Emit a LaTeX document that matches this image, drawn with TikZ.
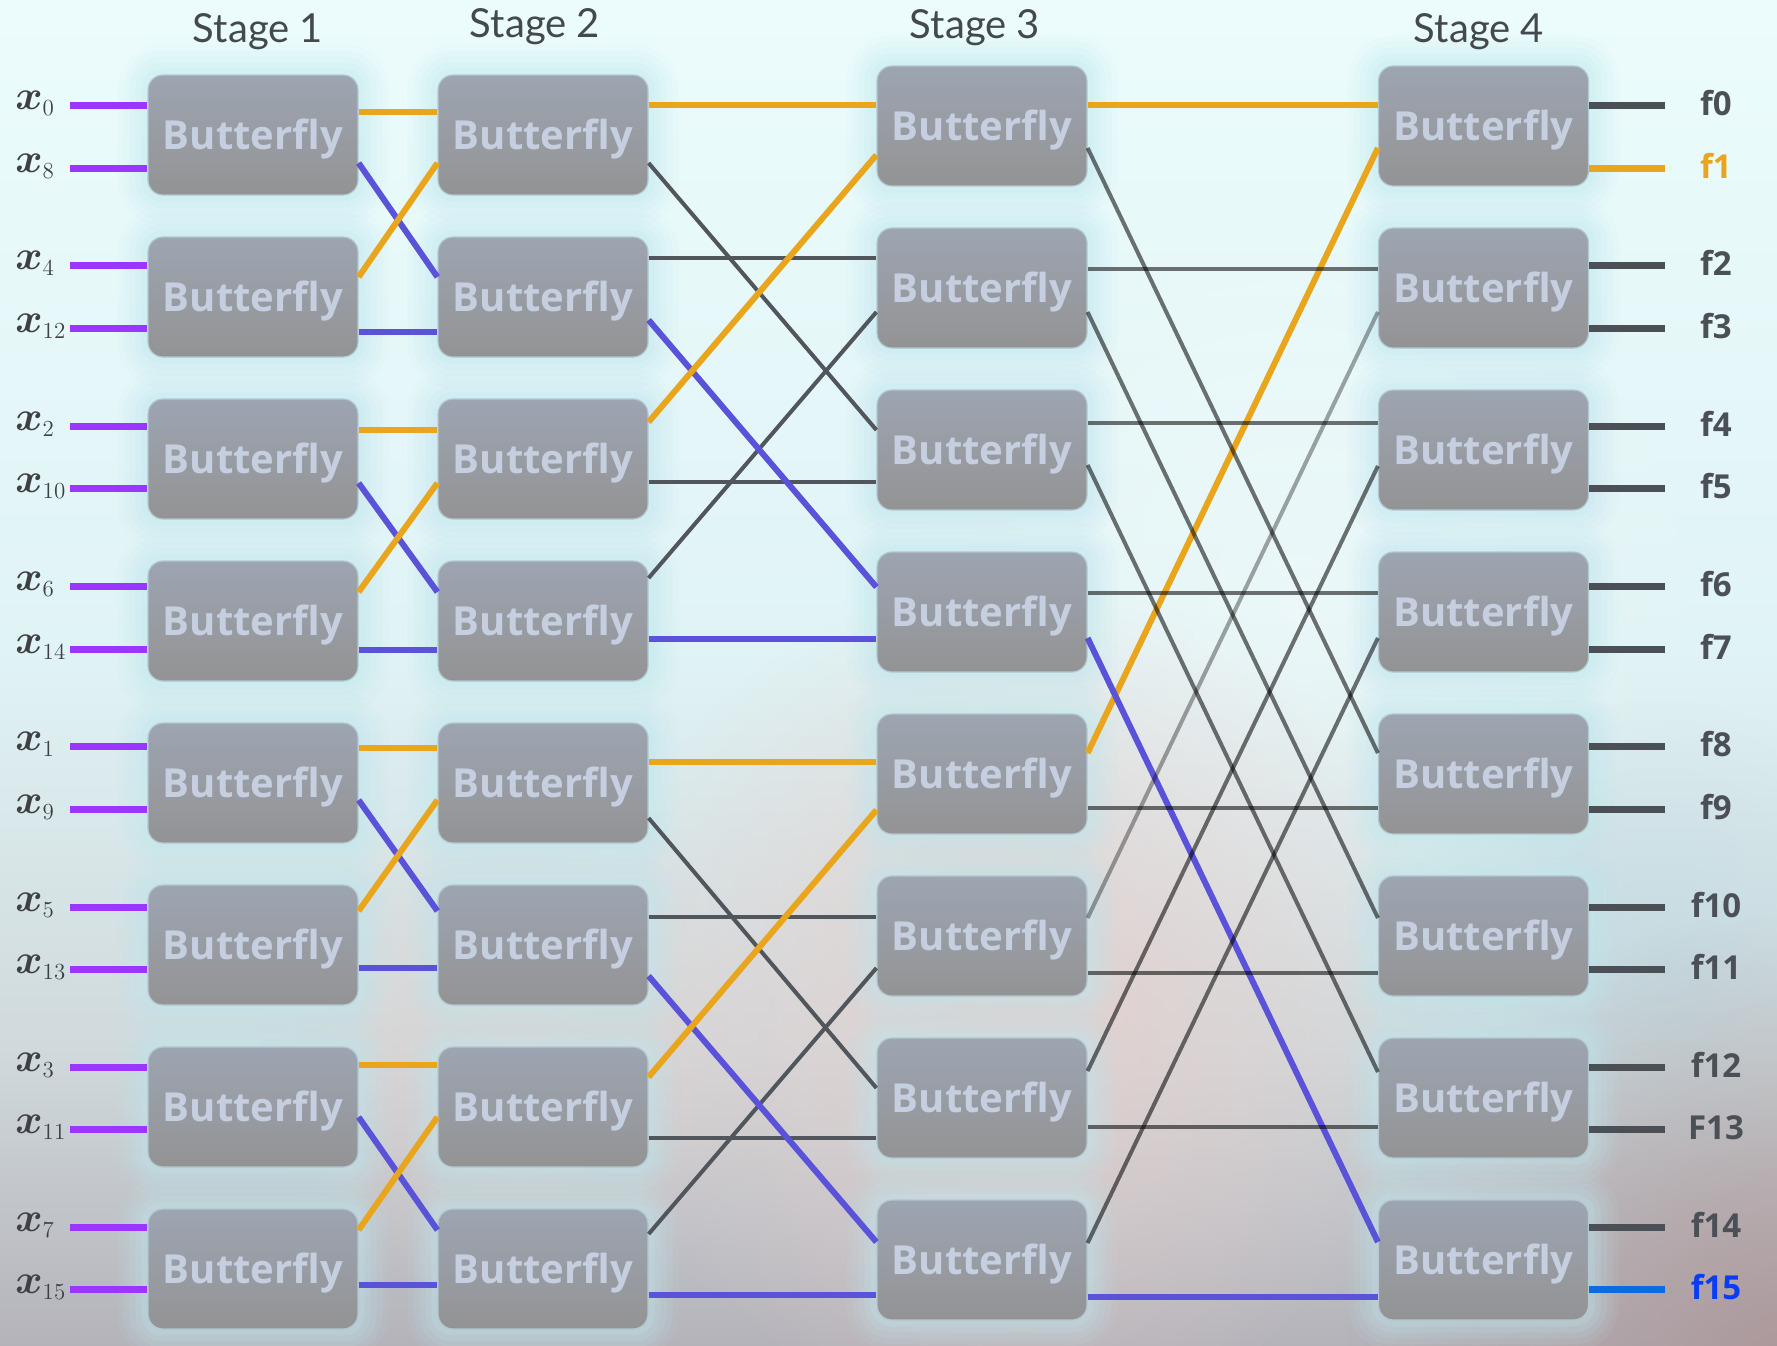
\documentclass[tikz,border=0pt]{standalone}
\usepackage{amsmath}
\usepackage{fontspec}
\newfontfamily\latof{Lato}
\newfontfamily\opens{Open Sans}
\usetikzlibrary{calc,fadings}
\pgfdeclarelayer{bg}
\pgfdeclarelayer{halo}
\pgfsetlayers{bg,halo,main}
\definecolor{bgA}{HTML}{ECFCFC}
\definecolor{bgB}{HTML}{E0F3F5}
\definecolor{bgC}{HTML}{D0D9DC}
\definecolor{bgD}{HTML}{B4B3BA}
\definecolor{pinkA}{HTML}{E8CDCA}
\definecolor{roseA}{HTML}{AA9192}
\definecolor{bluA}{HTML}{BCD8E0}
\definecolor{haloC}{HTML}{BFE8EF}
\definecolor{boxT}{HTML}{9DA5B2}
\definecolor{boxB}{HTML}{939394}
\definecolor{boxE}{HTML}{B2C8CF}
\definecolor{bfT}{HTML}{C6CFE0}
\definecolor{stageC}{HTML}{43494F}
\definecolor{inC}{HTML}{3E4045}
\definecolor{purC}{HTML}{9A36FF}
\definecolor{orgC}{HTML}{E9A61C}
\definecolor{bluC}{HTML}{5A52D8}
\definecolor{gryC}{HTML}{50565C}
\definecolor{outC}{HTML}{4B5056}
\definecolor{fLine}{HTML}{0A6CE0}
\definecolor{fText}{HTML}{0A3CF5}
\tikzfading[name=softdisc, inner color=transparent!0, outer color=transparent!100]
\tikzset{
  bfly/.style={rectangle, rounded corners=7.5pt, minimum width=105pt, minimum height=60pt,
    inner sep=0pt, top color=boxT, bottom color=boxB, draw=boxE, line width=0.6pt,
    font=\opens\bfseries\fontsize{20}{20}\selectfont, text=bfT, text height=14.5pt, text depth=0pt},
  halostroke/.style={draw=haloC, rounded corners=7.5pt},
  stagelab/.style={font=\latof\fontsize{20}{20}\selectfont, text=stageC, anchor=base, inner sep=0pt},
  inlab/.style={anchor=base west, inner sep=0pt, text=inC, font=\fontsize{21}{21}\selectfont},
  outlab/.style={anchor=base, inner sep=0pt, font=\opens\bfseries\fontsize{16.5}{17}\selectfont},
  inl/.style={draw=purC, line width=3.5pt},
  outl/.style={line width=3.5pt},
  org/.style={draw=orgC, line width=3pt},
  blu/.style={draw=bluC, line width=3pt},
  gryB/.style={draw=gryC, line width=2pt},
  gryK/.style={draw=black, draw opacity=0.55, line width=2pt},
  gryL/.style={draw=black, draw opacity=0.35, line width=2pt},
}
\newcommand{\inx}[1]{$\boldsymbol{x}_{\mbox{\fontsize{11.5}{12}\selectfont #1}}$}
\begin{document}
\begin{tikzpicture}[x=0.5pt,y=-0.5pt]
\useasboundingbox (0,0) rectangle (1777,1345);
% ---------- background ----------
\begin{pgfonlayer}{bg}
  \shade[top color=bgA, bottom color=bgB] (0,0) rectangle (1777,650);
  \shade[top color=bgB, bottom color=bgC] (0,649) rectangle (1777,1050);
  \shade[top color=bgC, bottom color=bgD] (0,1049) rectangle (1777,1345);
  \fill[white, opacity=0.35, path fading=softdisc] (1300,600) circle[radius=420];
  \fill[pinkA, opacity=0.8, path fading=softdisc] (1020,1010) circle[radius=430];
  \fill[pinkA, opacity=0.55, path fading=softdisc] (520,1060) circle[radius=260];
  \fill[bluA, opacity=0.6, path fading=softdisc] (1660,960) circle[radius=260];
  \fill[roseA, opacity=0.75, path fading=softdisc] (1777,1345) circle[radius=430];
\end{pgfonlayer}
% ---------- stage labels ----------
\node[stagelab] (st1) at (258,42) {Stage 1};
\node[stagelab] (st2) at (535,37) {Stage 2};
\node[stagelab] (st3) at (975,38) {Stage 3};
\node[stagelab] (st4) at (1479,42) {Stage 4};
% ---------- butterfly boxes ----------
\foreach \k in {0,...,7}{
  \pgfmathsetmacro\ya{135+162*\k}
  \pgfmathsetmacro\yb{126+162*\k}
  \node[bfly] (s1-\k) at (253,\ya) {Butterfly};
  \node[bfly] (s2-\k) at (543,\ya) {Butterfly};
  \node[bfly] (s3-\k) at (982,\yb) {Butterfly};
  \node[bfly] (s4-\k) at (1483.5,\yb) {Butterfly};
}
% ---------- halos ----------
\begin{pgfonlayer}{halo}
\foreach \s in {1,...,4}{\foreach \k in {0,...,7}{
  \foreach \w/\o in {30pt/0.08, 24pt/0.1, 18pt/0.12, 12pt/0.15, 6pt/0.2}{
    \path[halostroke, line width=\w, draw opacity=\o] (s\s-\k.south west) rectangle (s\s-\k.north east);
  }
}}
\end{pgfonlayer}
% ---------- inputs ----------
\foreach \k/\a/\b/\ya/\yb in {0/0/8/105/168, 1/4/12/265/328, 2/2/10/426/488, 3/6/14/586/649,
    4/1/9/746/809, 5/5/13/907/969, 6/3/11/1067/1129, 7/7/15/1227/1289}{
  \coordinate (ia-\k) at (70,\ya);
  \coordinate (ib-\k) at (70,\yb);
  \draw[inl] (ia-\k) -- (s1-\k.west |- ia-\k);
  \draw[inl] (ib-\k) -- (s1-\k.west |- ib-\k);
  \node[inlab] (xa-\k) at (15,\ya+4) {\inx{\a}};
  \node[inlab] (xb-\k) at (15,\yb+4) {\inx{\b}};
}
% ---------- outputs ----------
\foreach \k/\a/\b/\ya/\yb/\la/\lb/\ta/\tb in {
    0/f0/f1/105/168/outC/orgC/outC/orgC,
    1/f2/f3/265/328/outC/outC/outC/outC,
    2/f4/f5/426/488/outC/outC/outC/outC,
    3/f6/f7/586/649/outC/outC/outC/outC,
    4/f8/f9/746/809/outC/outC/outC/outC,
    5/f10/f11/907/969/outC/outC/outC/outC,
    6/f12/F13/1067/1129/outC/outC/outC/outC,
    7/f14/f15/1227/1289/outC/fLine/outC/fText}{
  \coordinate (oa-\k) at (1665,\ya);
  \coordinate (ob-\k) at (1665,\yb);
  \draw[outl, draw=\la] (s4-\k.east |- oa-\k) -- (oa-\k);
  \draw[outl, draw=\lb] (s4-\k.east |- ob-\k) -- (ob-\k);
  \node[outlab, text=\ta] (fa-\k) at (1716,\ya+10) {\a};
  \node[outlab, text=\tb] (fb-\k) at (1716,\yb+10) {\b};
}
% ---------- stage 1 -> stage 2 ----------
\foreach \g/\oh/\da/\db/\bh in {0/112/163/277/332, 1/430/483/592/650, 2/748/800/911/968, 3/1065/1117/1230/1285}{
  \pgfmathtruncatemacro\ka{2*\g}
  \pgfmathtruncatemacro\kb{2*\g+1}
  \draw[org] (s1-\ka.east |- 0,\oh) -- (s2-\ka.west |- 0,\oh);
  \draw[blu] (s1-\ka.east |- 0,\da) -- (s2-\kb.west |- 0,\db);
  \draw[org] (s1-\kb.east |- 0,\db) -- (s2-\ka.west |- 0,\da);
  \draw[blu] (s1-\kb.east |- 0,\bh) -- (s2-\kb.west |- 0,\bh);
}
% ---------- stage 2 -> stage 3 ----------
\foreach \h/\oh/\ga/\gb/\ha/\ba/\bb/\oa/\ob/\hb/\ca/\cb/\bh in {
    0/105/163/430/258/320/587/422/155/482/578/312/639,
    1/762/818/1088/917/976/1242/1077/810/1138/1234/968/1295}{
  \pgfmathtruncatemacro\ka{4*\h}
  \pgfmathtruncatemacro\kb{4*\h+1}
  \pgfmathtruncatemacro\kc{4*\h+2}
  \pgfmathtruncatemacro\kd{4*\h+3}
  \draw[gryB] (s2-\ka.east |- 0,\ga) -- (s3-\kc.west |- 0,\gb);
  \draw[gryB] (s2-\kb.east |- 0,\ha) -- (s3-\kb.west |- 0,\ha);
  \draw[gryB] (s2-\kc.east |- 0,\hb) -- (s3-\kc.west |- 0,\hb);
  \draw[gryB] (s2-\kd.east |- 0,\ca) -- (s3-\kb.west |- 0,\cb);
  \draw[org] (s2-\ka.east |- 0,\oh) -- (s3-\ka.west |- 0,\oh);
  \draw[blu] (s2-\kb.east |- 0,\ba) -- (s3-\kd.west |- 0,\bb);
  \draw[org] (s2-\kc.east |- 0,\oa) -- (s3-\ka.west |- 0,\ob);
  \draw[blu] (s2-\kd.east |- 0,\bh) -- (s3-\kd.west |- 0,\bh);
}
% ---------- stage 3 -> stage 4 ----------
\draw[org] (s3-0.east |- 0,105) -- (s4-0.west |- 0,105);
\draw[org] (s3-4.east |- 0,753) -- (s4-0.west |- 0,148);
\draw[gryK] (s3-0.east |- 0,148) -- (s4-4.west |- 0,753);
\draw[gryK] (s3-1.east |- 0,269) -- (s4-1.west |- 0,269);
\draw[gryK] (s3-1.east |- 0,312) -- (s4-5.west |- 0,918);
\draw[gryK] (s3-2.east |- 0,423) -- (s4-2.west |- 0,423);
\draw[gryK] (s3-2.east |- 0,465) -- (s4-6.west |- 0,1072);
\draw[gryK] (s3-3.east |- 0,593) -- (s4-3.west |- 0,593);
\draw[blu] (s3-3.east |- 0,638) -- (s4-7.west |- 0,1242);
\draw[gryK] (s3-4.east |- 0,808) -- (s4-4.west |- 0,808);
\draw[gryL] (s3-5.east |- 0,918) -- (s4-1.west |- 0,312);
\draw[gryK] (s3-5.east |- 0,973) -- (s4-5.west |- 0,973);
\draw[gryK] (s3-6.east |- 0,1071) -- (s4-2.west |- 0,466);
\draw[gryK] (s3-6.east |- 0,1127) -- (s4-6.west |- 0,1127);
\draw[gryK] (s3-7.east |- 0,1243) -- (s4-3.west |- 0,638);
\draw[blu] (s3-7.east |- 0,1297) -- (s4-7.west |- 0,1297);
\end{tikzpicture}
\end{document}
